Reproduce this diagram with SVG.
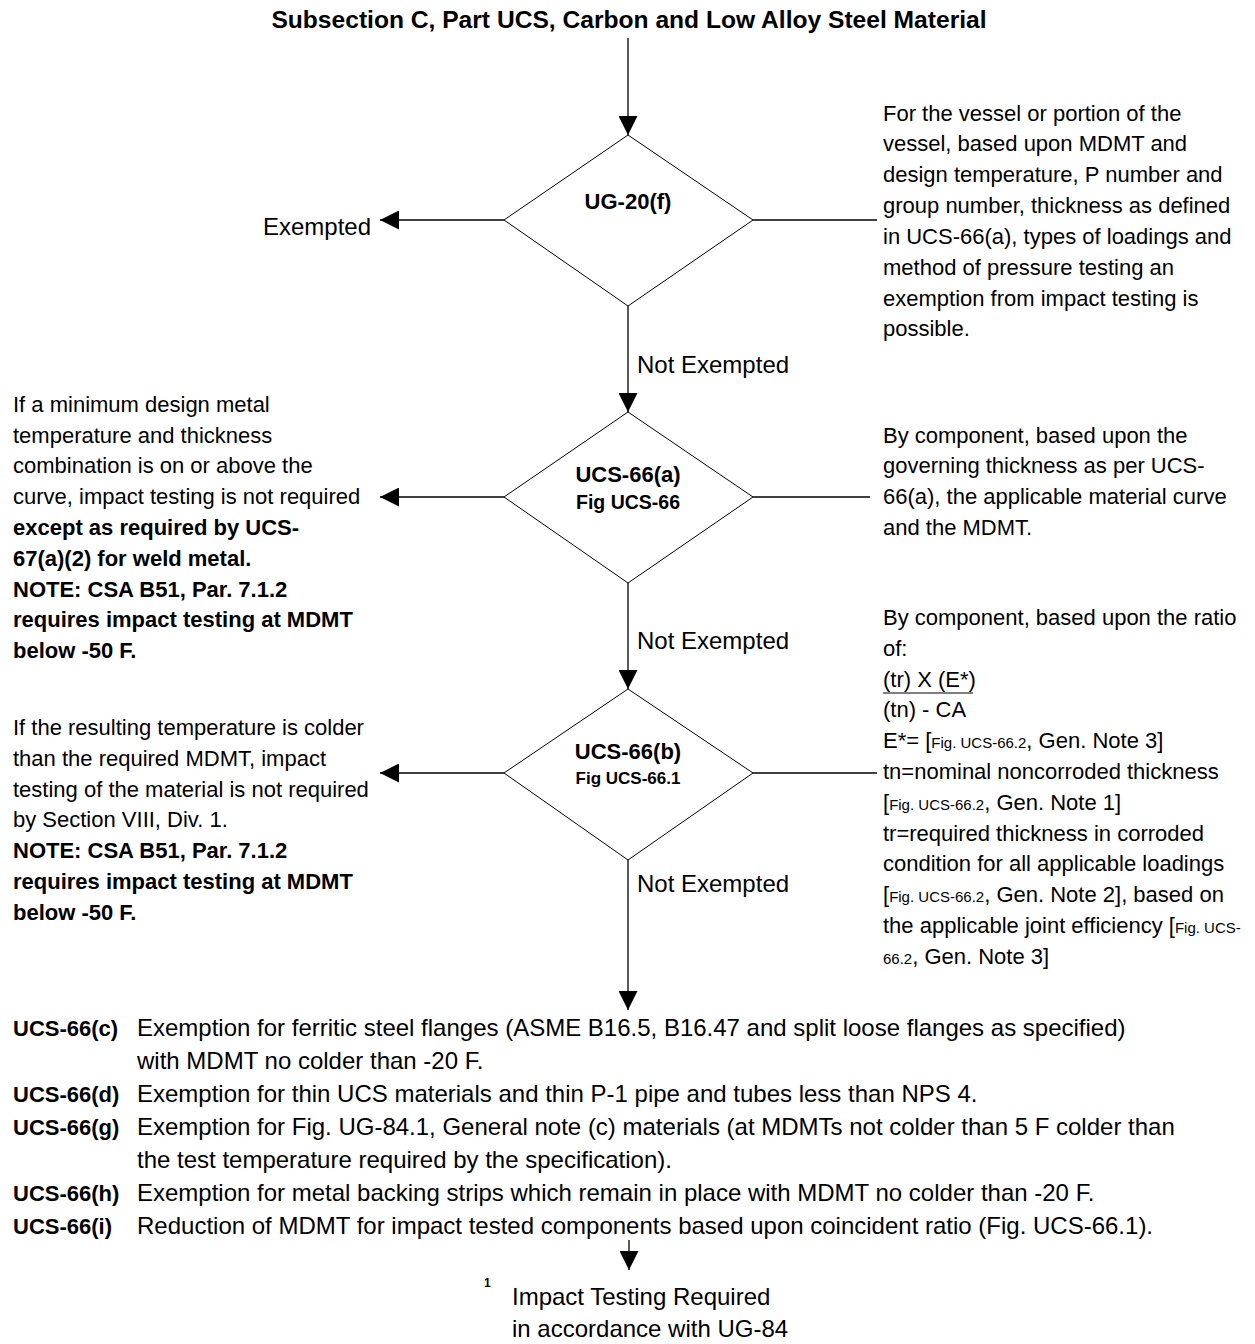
<svg xmlns="http://www.w3.org/2000/svg" width="1255" height="1344" viewBox="0 0 1255 1344">
<defs>
<marker id="ah" markerUnits="userSpaceOnUse" markerWidth="19" markerHeight="19" refX="19" refY="9.5" orient="auto">
<path d="M0,0 L19,9.5 L0,19 z" fill="#000"/>
</marker>
<style>
text{font-family:"Liberation Sans",Arial,sans-serif;fill:#000}
.t{font-size:22px}
.b{font-weight:bold}
.l{font-size:24px}
.s{font-size:15px}
.d{fill:#fff;stroke:#000;stroke-width:1}
.c{stroke:#000;stroke-width:1.3;fill:none}
.ar{marker-end:url(#ah)}
</style>
</defs>
<rect width="1255" height="1344" fill="#fff"/>
<text x="629" y="28" text-anchor="middle" class="b" font-size="24.6">Subsection C, Part UCS, Carbon and Low Alloy Steel Material</text>

<g id="connectors">
<line class="c ar" x1="628" y1="38" x2="628" y2="135"/>
<line class="c ar" x1="628" y1="306" x2="628" y2="412"/>
<line class="c ar" x1="628" y1="583" x2="628" y2="689"/>
<line class="c ar" x1="628" y1="860" x2="628" y2="1010"/>
<line class="c ar" x1="629" y1="1240" x2="629" y2="1270"/>
<line class="c ar" x1="504" y1="220" x2="380" y2="220"/>
<line class="c ar" x1="504" y1="497" x2="380" y2="497"/>
<line class="c ar" x1="504" y1="773" x2="380" y2="773"/>
<line class="c" x1="753" y1="220" x2="877" y2="220"/>
<line class="c" x1="753" y1="497" x2="870" y2="497"/>
<line class="c" x1="753" y1="773" x2="877" y2="773"/>
<text x="637" y="373" class="l">Not Exempted</text>
<text x="637" y="649" class="l">Not Exempted</text>
<text x="637" y="892" class="l">Not Exempted</text>
</g>

<g id="d1">
<polygon class="d" points="628,135 753,220 628,306 504,220"/>
<text x="628" y="209" text-anchor="middle" class="t b">UG-20(f)</text>
</g>
<g id="d2">
<polygon class="d" points="628,412 753,497 628,583 504,497"/>
<text x="628" y="482" text-anchor="middle" class="t b">UCS-66(a)</text>
<text x="628" y="509" text-anchor="middle" class="b" font-size="19.5">Fig UCS-66</text>
</g>
<g id="d3">
<polygon class="d" points="628,689 753,773 628,860 504,773"/>
<text x="628" y="759" text-anchor="middle" class="t b">UCS-66(b)</text>
<text x="628" y="784" text-anchor="middle" class="b" font-size="17">Fig UCS-66.1</text>
</g>

<g id="exempted">
<text x="263" y="235" class="l">Exempted</text>
</g>

<g id="note-ug20f">
<text x="883" y="121" class="t">For the vessel or portion of the</text>
<text x="883" y="151" class="t">vessel, based upon MDMT and</text>
<text x="883" y="182" class="t">design temperature, P number and</text>
<text x="883" y="213" class="t">group number, thickness as defined</text>
<text x="883" y="244" class="t">in UCS-66(a), types of loadings and</text>
<text x="883" y="275" class="t">method of pressure testing an</text>
<text x="883" y="306" class="t">exemption from impact testing is</text>
<text x="883" y="336" class="t">possible.</text>
</g>

<g id="note-ucs66a">
<text x="883" y="443" class="t">By component, based upon the</text>
<text x="883" y="473" class="t">governing thickness as per UCS-</text>
<text x="883" y="504" class="t">66(a), the applicable material curve</text>
<text x="883" y="535" class="t">and the MDMT.</text>
</g>

<g id="note-ucs66b">
<text x="883" y="625" class="t">By component, based upon the ratio</text>
<text x="883" y="656" class="t">of:</text>
<text x="883" y="687" class="t">(tr) X (E*)</text>
<line x1="883" y1="693" x2="973" y2="693" stroke="#000" stroke-width="1"/>
<text x="883" y="717" class="t">(tn) - CA</text>
<text x="883" y="748" class="t">E*= [<tspan class="s">Fig. UCS-66.2</tspan>, Gen. Note 3]</text>
<text x="883" y="779" class="t">tn=nominal noncorroded thickness</text>
<text x="883" y="810" class="t">[<tspan class="s">Fig. UCS-66.2</tspan>, Gen. Note 1]</text>
<text x="883" y="841" class="t">tr=required thickness in corroded</text>
<text x="883" y="871" class="t">condition for all applicable loadings</text>
<text x="883" y="902" class="t">[<tspan class="s">Fig. UCS-66.2</tspan>, Gen. Note 2], based on</text>
<text x="883" y="933" class="t">the applicable joint efficiency [<tspan class="s">Fig. UCS-</tspan></text>
<text x="883" y="964" class="t"><tspan class="s">66.2</tspan>, Gen. Note 3]</text>
</g>

<g id="left-ucs66a">
<text x="13" y="412" class="t">If a minimum design metal</text>
<text x="13" y="443" class="t">temperature and thickness</text>
<text x="13" y="473" class="t">combination is on or above the</text>
<text x="13" y="504" class="t">curve, impact testing is not required</text>
<text x="13" y="535" class="t b">except as required by UCS-</text>
<text x="13" y="566" class="t b">67(a)(2) for weld metal.</text>
<text x="13" y="597" class="t b">NOTE: CSA B51, Par. 7.1.2</text>
<text x="13" y="627" class="t b">requires impact testing at MDMT</text>
<text x="13" y="658" class="t b">below -50 F.</text>
</g>

<g id="left-ucs66b">
<text x="13" y="735" class="t">If the resulting temperature is colder</text>
<text x="13" y="766" class="t">than the required MDMT, impact</text>
<text x="13" y="797" class="t">testing of the material is not required</text>
<text x="13" y="827" class="t">by Section VIII, Div. 1.</text>
<text x="13" y="858" class="t b">NOTE: CSA B51, Par. 7.1.2</text>
<text x="13" y="889" class="t b">requires impact testing at MDMT</text>
<text x="13" y="920" class="t b">below -50 F.</text>
</g>

<g id="exemptions">
<text x="13" y="1036" class="t b">UCS-66(c)</text>
<text x="137" y="1036" class="l">Exemption for ferritic steel flanges (ASME B16.5, B16.47 and split loose flanges as specified)</text>
<text x="137" y="1069" class="l">with MDMT no colder than -20 F.</text>
<text x="13" y="1102" class="t b">UCS-66(d)</text>
<text x="137" y="1102" class="l">Exemption for thin UCS materials and thin P-1 pipe and tubes less than NPS 4.</text>
<text x="13" y="1135" class="t b">UCS-66(g)</text>
<text x="137" y="1135" class="l">Exemption for Fig. UG-84.1, General note (c) materials (at MDMTs not colder than 5 F colder than</text>
<text x="137" y="1168" class="l">the test temperature required by the specification).</text>
<text x="13" y="1201" class="t b">UCS-66(h)</text>
<text x="137" y="1201" class="l">Exemption for metal backing strips which remain in place with MDMT no colder than -20 F.</text>
<text x="13" y="1234" class="t b">UCS-66(i)</text>
<text x="137" y="1234" class="l">Reduction of MDMT for impact tested components based upon coincident ratio (Fig. UCS-66.1).</text>
</g>

<g id="impact-testing">
<text x="484" y="1287" class="b" font-size="12">1</text>
<text x="512" y="1305" class="l">Impact Testing Required</text>
<text x="512" y="1337" class="l">in accordance with UG-84</text>
</g>
</svg>
